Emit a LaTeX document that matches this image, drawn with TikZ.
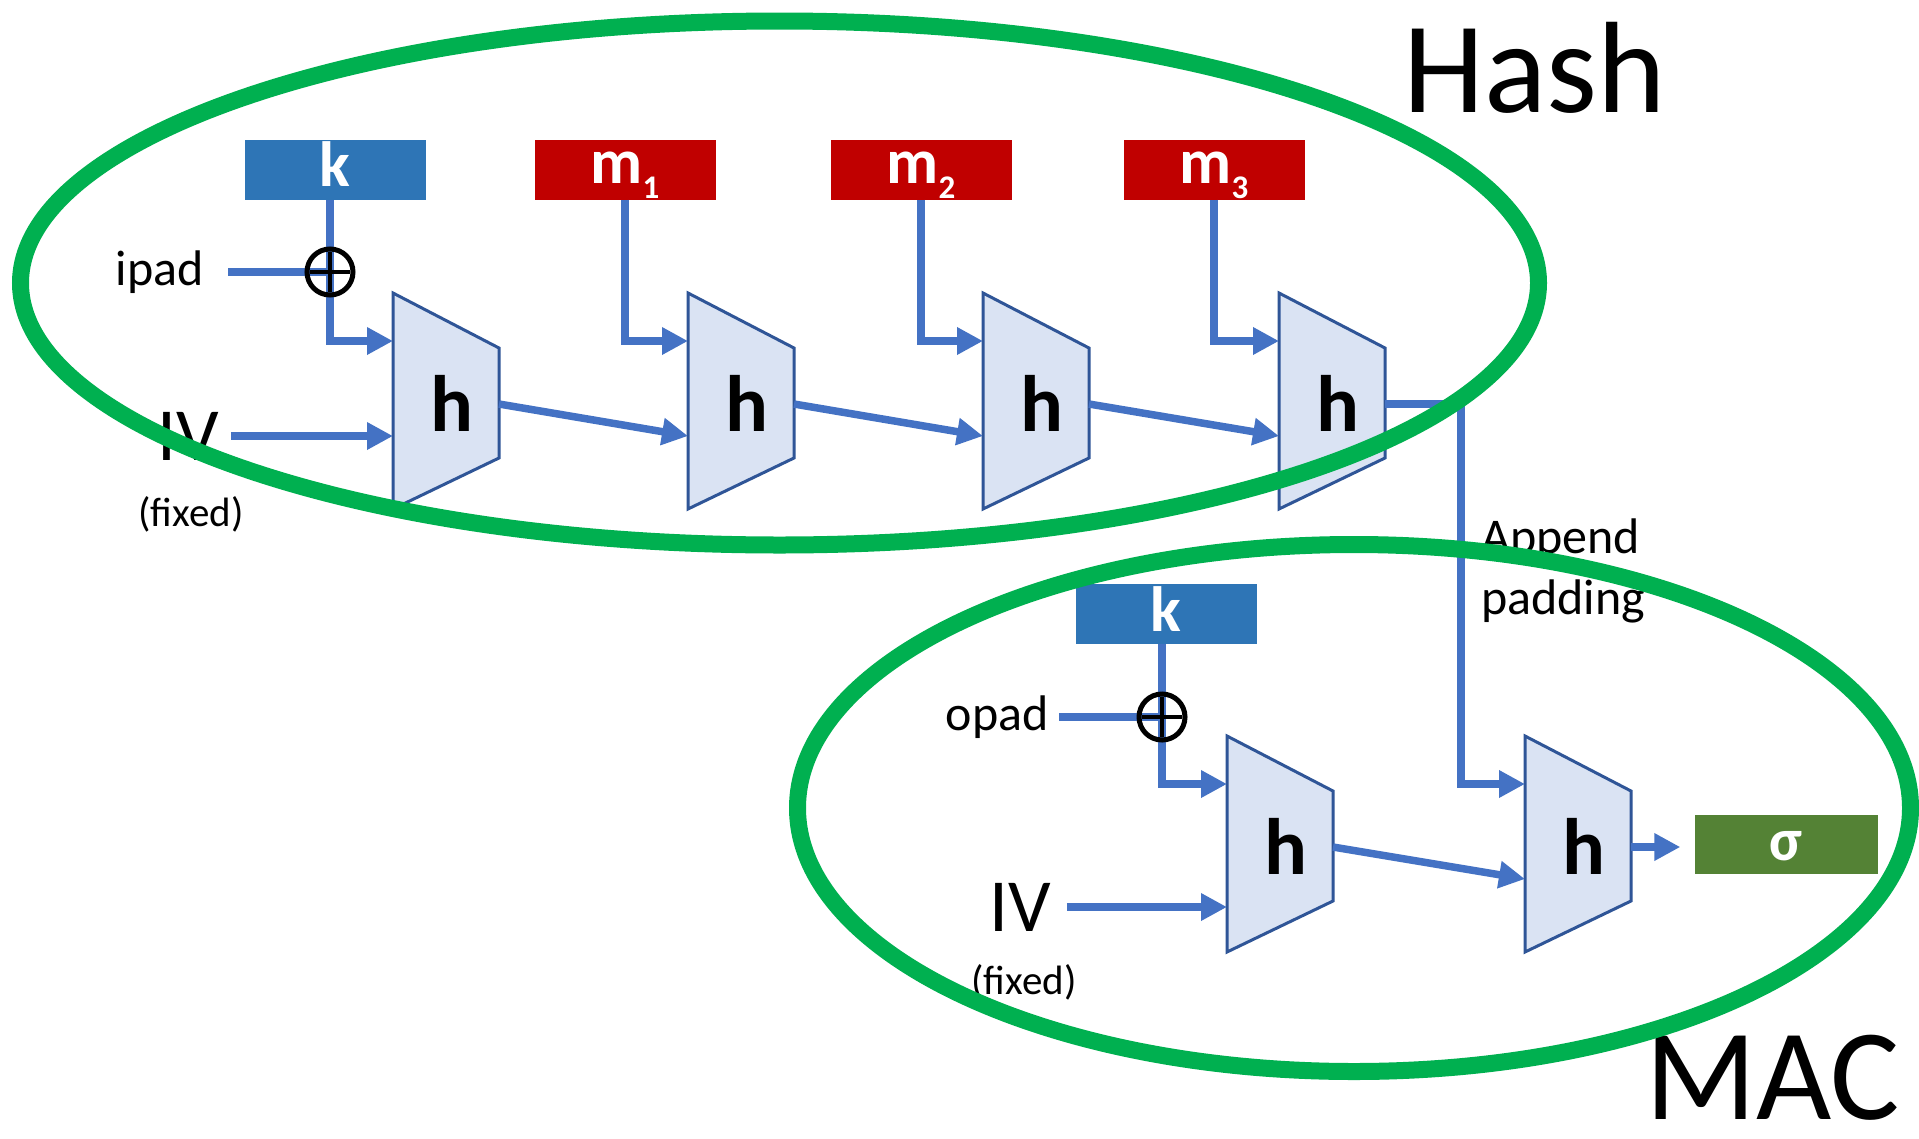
\documentclass[tikz,border=0pt]{standalone}
\usepackage{fontspec}
\setmainfont{Carlito}
\usetikzlibrary{arrows.meta}
\definecolor{lineblue}{HTML}{4472C4}
\definecolor{keyblue}{HTML}{2E75B6}
\definecolor{msgred}{HTML}{C00000}
\definecolor{siggreen}{HTML}{548235}
\definecolor{trapfill}{HTML}{DAE3F3}
\definecolor{trapline}{HTML}{2F5597}
\definecolor{ringgreen}{HTML}{00B050}
\newcommand{\hblock}[3]{%
  \draw[trap] (#2,#3) -- ++(106,55) -- ++(0,110) -- ++(-106,51) -- cycle;
  \node[hlabel] (#1) at (#2+59,#3+138) {h};
  \coordinate (#1-top) at (#2,#3+48);
  \coordinate (#1-mid) at (#2,#3+143);
  \coordinate (#1-out) at (#2+106,#3+111);
}
\begin{document}
\begin{tikzpicture}[x=1pt,y=-1pt,
  flow/.style={draw=lineblue, line width=7.5pt},
  arr/.style={flow, -{Triangle[length=26pt,width=26pt]}},
  trap/.style={draw=trapline, fill=trapfill, line width=3pt, line join=miter},
  hlabel/.style={anchor=base, inner sep=0pt, font=\fontsize{80}{80}\selectfont\bfseries},
  blockbox/.style={minimum width=181pt, minimum height=60pt, inner sep=0pt},
  boxtext/.style={anchor=base, inner sep=0pt, text=white, font=\fontsize{64}{64}\selectfont\bfseries},
  lab/.style={inner sep=0pt, font=\fontsize{50}{60}\selectfont},
  ivlab/.style={inner sep=0pt, font=\fontsize{75}{80}\selectfont},
  fixlab/.style={inner sep=0pt, font=\fontsize{41}{48}\selectfont},
  biglab/.style={inner sep=0pt, font=\fontsize{130}{150}\selectfont},
  xorc/.style={circle, draw=black, line width=5pt, minimum size=46pt, inner sep=0pt},
  ring/.style={draw=ringgreen, line width=17pt}
]
\fill[white] (0,0) rectangle (1919,1138);
\useasboundingbox (0,0) rectangle (1919,1138);

% ---------- Hash part ----------
\node[blockbox, fill=keyblue] (k1) at (335,169.5) {};
\node[boxtext] (k1t) at ([yshift=-17pt]k1.center) {k};
\node[blockbox, fill=msgred] (m1) at (625,169.5) {};
\node[boxtext] (m1t) at ([yshift=-13.5pt]m1.center) {m\raisebox{-15pt}{\fontsize{33}{33}\selectfont 1}};
\node[blockbox, fill=msgred] (m2) at (921,169.5) {};
\node[boxtext] (m2t) at ([yshift=-13.5pt]m2.center) {m\raisebox{-15pt}{\fontsize{33}{33}\selectfont 2}};
\node[blockbox, fill=msgred] (m3) at (1214,169.5) {};
\node[boxtext] (m3t) at ([yshift=-13.5pt]m3.center) {m\raisebox{-15pt}{\fontsize{33}{33}\selectfont 3}};

\coordinate (x1) at (330,272);
\node[lab, anchor=east] (ipad) at (204,272) {ipad};
\node[ivlab, anchor=west] (iv1) at (157,436) {IV};
\node[fixlab] (fx1) at (191,514) {(fixed)};

\draw[flow] (k1.south -| x1) -- (x1);
\draw[flow] ([xshift=24pt]ipad.east) -- (x1);

\hblock{T1}{393}{293}
\hblock{T2}{688}{293}
\hblock{T3}{983}{293}
\hblock{T4}{1279}{293}

\draw[arr] (x1) |- (T1-top);
\draw[arr] (m1.south) |- (T2-top);
\draw[arr] (m2.south) |- (T3-top);
\draw[arr] (m3.south) |- (T4-top);
\draw[arr] ([xshift=12pt]iv1.east) -- (iv1.east -| T1-top);
\draw[arr] (T1-out) -- (T2-mid);
\draw[arr] (T2-out) -- (T3-mid);
\draw[arr] (T3-out) -- (T4-mid);

\node[xorc] (xor1) at (x1) {};
\draw[black, line width=4pt] ([xshift=-20pt]xor1.center) -- ([xshift=20pt]xor1.center);
\draw[black, line width=4pt] ([yshift=-20pt]xor1.center) -- ([yshift=20pt]xor1.center);

\node[biglab, anchor=base west] (hash) at (1403,112) {Hash};

% ---------- MAC part ----------
\node[blockbox, fill=keyblue] (k2) at (1166,614) {};
\node[boxtext] (k2t) at ([yshift=-17pt]k2.center) {k};
\node[blockbox, fill=siggreen, minimum width=183pt, minimum height=59pt] (sig) at (1786,844) {};
\node[boxtext, font=\fontsize{60}{60}\selectfont\bfseries] (sigt) at ([yshift=-16pt]sig.center) {σ};

\coordinate (x2) at (1162,717);
\node[lab, anchor=east] (opad) at (1049,717) {opad};
\node[ivlab, anchor=west] (iv2) at (989,907) {IV};
\node[fixlab] (fx2) at (1024,982) {(fixed)};

\draw[flow] (k2.south -| x2) -- (x2);
\draw[flow] ([xshift=10pt]opad.east) -- (x2);

\hblock{T5}{1227}{736}
\hblock{T6}{1525}{736}

\coordinate (turn) at (1461,600);
\draw[arr] (x2) |- (T5-top);
\draw[arr] ([xshift=16pt]iv2.east) -- (iv2.east -| T5-top);
\draw[arr] (T5-out) -- (T6-mid);
\draw[arr] (T4-out) -- (T4-out -| turn) |- (T6-top);
\draw[arr] (T6-out) -- ([xshift=-14pt]sig.west |- T6-out);

\node[xorc] (xor2) at (x2) {};
\draw[black, line width=4pt] ([xshift=-20pt]xor2.center) -- ([xshift=20pt]xor2.center);
\draw[black, line width=4pt] ([yshift=-20pt]xor2.center) -- ([yshift=20pt]xor2.center);

\node[lab, anchor=base west] (app) at (1481,553) {Append};
\node[lab, anchor=base west] (padd) at (1481,614) {padding};

\node[biglab, anchor=base west] (mac) at (1645,1119) {MAC};

% ---------- rings ----------
\draw[ring] (779.5,283) ellipse [x radius=759pt, y radius=262pt];
\draw[ring] (1354,808) ellipse [x radius=556.5pt, y radius=263.5pt];
\end{tikzpicture}
\end{document}
